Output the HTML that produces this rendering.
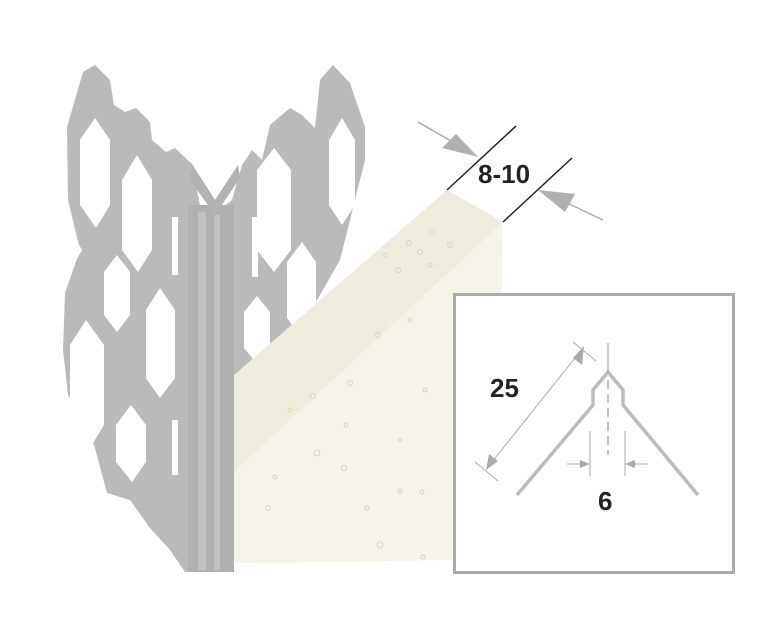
<!DOCTYPE html>
<html><head><style>
html,body{margin:0;padding:0;background:#fff;}
svg{display:block;}
text{font-family:"Liberation Sans",sans-serif;font-weight:bold;fill:#222;}
</style></head><body>
<svg width="776" height="639" viewBox="0 0 776 639" xmlns="http://www.w3.org/2000/svg">
<g>
<polygon fill="#bababa" points="83,72 95,65 110,80 114,105 125,112 136,108 150,122 152,140 166,152 175,148 192,164 200,205 215,213 232,200 242,165 252,150 262,160 270,125 290,108 302,115 315,128 320,80 333,65 350,83 365,127 365,160 355,200 345,240 340,260 300,330 275,350 265,400 250,420 238,470 238,540 215,572 185,572 170,550 150,528 130,500 107,493 90,430 68,395 63,350 65,293 80,250 68,200 67,127"/>
<rect x="188" y="205" width="46" height="367" fill="#b0b0b0"/>
<rect x="198" y="212" width="8" height="358" fill="#c2c2c2"/>
<rect x="214" y="215" width="6" height="355" fill="#c2c2c2"/>
<polygon fill="#b2b2b2" points="192,164 215,200 238,165 240,178 215,215 190,180"/>
<g fill="#fff">
<polygon points="95,118 110,140 110,205 96,228 80,205 80,140"/>
<polygon points="86,320 104,345 104,425 90,448 70,425 70,345"/>
<polygon points="137,155 152,180 152,250 138,272 122,250 122,180"/>
<polygon points="160,288 175,310 175,378 160,398 146,378 146,310"/>
<polygon points="131,405 146,425 146,462 132,482 116,462 116,425"/>
<polygon points="117,255 130,272 130,315 117,332 104,315 104,272"/>
<polygon points="72,232 82,250 72,268"/>
<rect x="172" y="217" width="6" height="58"/>
<rect x="172" y="420" width="6" height="55"/>
<rect x="252" y="217" width="6" height="60"/>
<polygon points="274,148 291,170 291,250 274,272 257,250 257,170"/>
<polygon points="342,118 355,140 355,205 342,225 329,205 329,140"/>
<polygon points="302,242 316,262 316,318 302,338 287,318 287,262"/>
<polygon points="257,296 270,312 270,348 257,364 244,348 244,312"/>
<polygon points="360,232 352,250 360,268"/>
</g>
</g>
<polygon fill="#f6f4e7" points="234,472 503,222 497,555 452,560 234,563"/>
<polygon fill="#efecdc" points="234,375 447,190 503,222 234,472"/>
<g fill="none" stroke="#d8d4c0" stroke-width="1">
<circle cx="409" cy="243" r="2.5"/><circle cx="432" cy="232" r="2.5"/><circle cx="420" cy="252" r="2.5"/><circle cx="450" cy="245" r="2.5"/><circle cx="398" cy="270" r="2.5"/><circle cx="430" cy="265" r="2"/><circle cx="385" cy="255" r="2"/>
<circle cx="378" cy="335" r="2.5"/><circle cx="350" cy="383" r="2.5"/><circle cx="313" cy="396" r="2.5"/><circle cx="290" cy="410" r="2"/><circle cx="346" cy="425" r="2"/><circle cx="317" cy="453" r="3"/><circle cx="400" cy="440" r="2"/><circle cx="344" cy="468" r="2.5"/><circle cx="400" cy="491" r="2"/><circle cx="275" cy="477" r="2"/><circle cx="268" cy="508" r="2.5"/><circle cx="367" cy="508" r="2"/><circle cx="422" cy="492" r="2"/><circle cx="380" cy="545" r="3"/><circle cx="423" cy="557" r="2"/><circle cx="425" cy="390" r="2"/><circle cx="410" cy="320" r="2"/>
</g>
<g stroke="#222" stroke-width="1.5">
<line x1="447" y1="190" x2="516" y2="126"/>
<line x1="503" y1="222" x2="572" y2="158"/>
</g>
<g stroke="#aaa" stroke-width="1.5">
<line x1="418" y1="122" x2="470" y2="152"/>
<line x1="603" y1="220" x2="548" y2="194"/>
</g>
<polygon fill="#b0b0b0" points="478,157 442,148 456,134"/>
<polygon fill="#b0b0b0" points="538,190 575,194 565,212"/>
<text x="478" y="183" font-size="26">8-10</text>
<rect x="454.5" y="294.5" width="279" height="278" fill="#fff" stroke="#aaa" stroke-width="3"/>
<polyline fill="none" stroke="#bbb" stroke-width="3.5" stroke-linejoin="miter" points="517,495 593,405 593,390 608,372 623,390 623,405 698,495"/>
<line x1="608" y1="343" x2="608" y2="372" stroke="#999" stroke-width="1"/>
<line x1="608" y1="380" x2="608" y2="455" stroke="#999" stroke-width="1.2" stroke-dasharray="9,5"/>
<g stroke="#aaa" stroke-width="1">
<line x1="590" y1="431" x2="590" y2="476"/>
<line x1="625" y1="431" x2="625" y2="476"/>
<line x1="567" y1="464" x2="582" y2="464"/>
<line x1="648" y1="464" x2="633" y2="464"/>
<line x1="475" y1="462" x2="498" y2="481"/>
<line x1="573" y1="342" x2="596" y2="361"/>
<line x1="492" y1="462" x2="579" y2="353"/>
</g>
<polygon fill="#aaa" points="590,464 580,460 580,468"/>
<polygon fill="#aaa" points="625,464 635,460 635,468"/>
<polygon fill="#aaa" points="486,470 489,454 498,461"/>
<polygon fill="#aaa" points="584,346 573,358 582,365"/>
<text x="490" y="397" font-size="26">25</text>
<text x="598" y="510" font-size="26">6</text>
</svg>
</body></html>
